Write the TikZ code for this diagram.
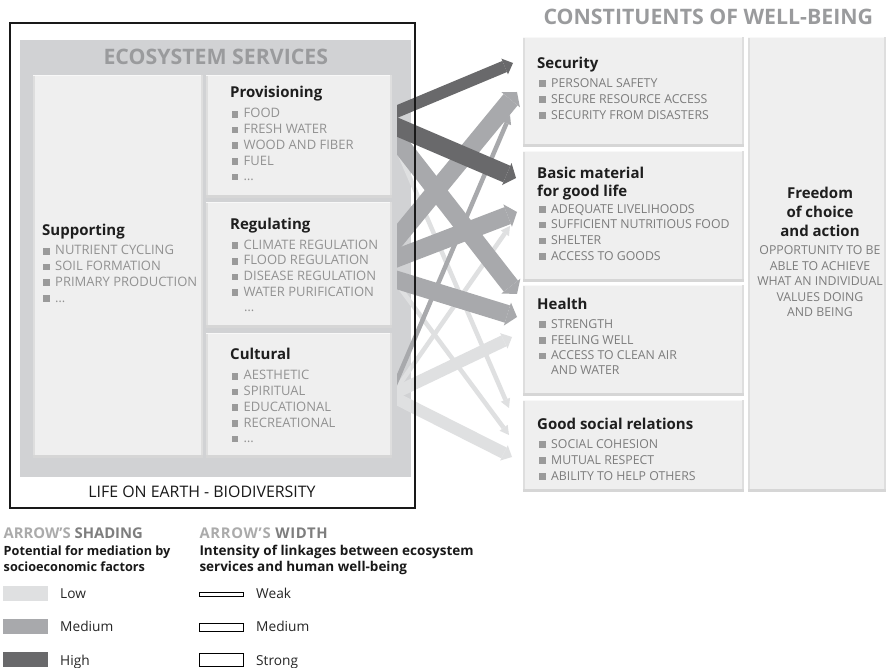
\documentclass[tikz,border=0pt]{standalone}
\usepackage{fontspec}
\setmainfont{Open Sans}
\usetikzlibrary{arrows.meta}

\definecolor{panelgray}{HTML}{D1D2D4}
\definecolor{boxfill}{HTML}{EFEFEF}
\definecolor{bevbot}{HTML}{D6D6D6}
\definecolor{bevside}{HTML}{DEDEDE}
\definecolor{bevtop}{HTML}{F8F8F8}
\definecolor{headgray}{HTML}{9A9B9D}
\definecolor{itemgray}{HTML}{929292}
\definecolor{cgray}{HTML}{7C7C7C}
\definecolor{bulletgray}{HTML}{9A9A9A}
\definecolor{titleblack}{HTML}{1E1E1E}
\definecolor{lowc}{HTML}{DFE0E1}
\definecolor{medc}{HTML}{A8A9AC}
\definecolor{highc}{HTML}{69696B}
\definecolor{lablight}{HTML}{ABABAB}
\definecolor{labdark}{HTML}{7E7E7E}

% grey square bullet in front of list items
\newcommand\sqb{\textcolor{bulletgray}{\rule[0.4pt]{6.5pt}{6.5pt}}\hspace{5.5pt}}

% raised-panel edges around a box node
\newcommand\bevelbox[1]{%
  \fill[bevside] (#1.north west) rectangle ([xshift=1.5pt]#1.south west);
  \fill[bevtop] (#1.north west) rectangle ([yshift=-1.5pt]#1.north east);
  \fill[bevside] ([xshift=-2.5pt]#1.north east) rectangle (#1.south east);
  \fill[bevbot] (#1.south west) rectangle ([yshift=3pt]#1.south east);
}

\begin{document}
\begin{tikzpicture}[x=1pt,y=-1pt,
  box/.style={fill=boxfill, inner sep=0pt, outer sep=0pt, anchor=north west},
  ttl/.style={font=\bfseries\fontsize{15}{18}\selectfont, text=titleblack, inner sep=0pt, anchor=base west},
  svcitem/.style={font=\fontsize{13}{15}\selectfont, text=itemgray, inner sep=0pt, anchor=base west},
  cnitem/.style={font=\fontsize{12.3}{14}\selectfont, text=cgray, inner sep=0pt, anchor=base west},
  head/.style={font=\bfseries\fontsize{21.3}{24}\selectfont, text=headgray, inner sep=0pt, anchor=base},
  legtxt/.style={font=\fontsize{13.7}{16}\selectfont, text=black!85, inner sep=0pt, anchor=base west},
  legbold/.style={font=\bfseries\fontsize{12.7}{16}\selectfont, text=black!90, inner sep=0pt, anchor=base west},
  legbold2/.style={legbold, font=\bfseries\fontsize{13.5}{16}\selectfont},
  leghead/.style={legbold, font=\bfseries\fontsize{14.8}{16}\selectfont},
  link/.style={shorten <=-12pt},
  weakA/.style={line width=4.5pt, -{Triangle[length=9pt,width=10pt,line width=0pt]}},
  medA/.style={line width=12pt, -{Triangle[length=9pt,width=17pt,line width=0pt]}},
  strongA/.style={line width=18pt, -{Triangle[length=10pt,width=24pt,line width=0pt]}},
  lowS/.style={draw=lowc, fill=lowc},
  medS/.style={draw=medc, fill=medc},
  highS/.style={draw=highc, fill=highc},
]
\useasboundingbox (0,0) rectangle (887,668);
\fill[white] (0,0) rectangle (887,668);

% ---------------- ecosystem services ----------------
\fill[panelgray] (20,40) rectangle (411,477);
\node[head] (eshead) at (215.8,65) {ECOSYSTEM SERVICES};

\node[box, minimum width=170pt, minimum height=383pt] (sup) at (33,75) {};
\node[box, minimum width=186pt, minimum height=123pt] (prov) at (206,75) {};
\node[box, minimum width=186pt, minimum height=126pt] (reg) at (206,202) {};
\node[box, minimum width=186pt, minimum height=125pt] (cult) at (206,333) {};
\bevelbox{sup}\bevelbox{prov}\bevelbox{reg}\bevelbox{cult}

\node[ttl] (supT) at (42,235.7) {Supporting};
\foreach \t [count=\i] in {NUTRIENT CYCLING,SOIL FORMATION,PRIMARY PRODUCTION,…}
  \node[svcitem] (sup-\i) at (43,{255+15.7*(\i-1)}) {\sqb\t};

\node[ttl] (provT) at (230,98) {Provisioning};
\foreach \t [count=\i] in {FOOD,FRESH WATER,WOOD AND FIBER,FUEL,…}
  \node[svcitem] (prov-\i) at (231.5,{118+15.7*(\i-1)}) {\sqb\t};

\node[ttl] (regT) at (230,229.3) {Regulating};
\foreach \t [count=\i] in {CLIMATE REGULATION,FLOOD REGULATION,DISEASE REGULATION,WATER PURIFICATION}
  \node[svcitem] (reg-\i) at (231.5,{249.3+15.7*(\i-1)}) {\sqb\t};
\node[svcitem] (reg-5) at (244,312) {…};

\node[ttl] (cultT) at (230,359.3) {Cultural};
\foreach \t [count=\i] in {AESTHETIC,SPIRITUAL,EDUCATIONAL,RECREATIONAL,…}
  \node[svcitem] (cult-\i) at (231.5,{380+15.7*(\i-1)}) {\sqb\t};

\node[font=\fontsize{15.9}{18}\selectfont, text=black!90, inner sep=0pt, anchor=base] (life) at (202,497.7) {LIFE ON EARTH - BIODIVERSITY};

% ---------------- constituents of well-being ----------------
\node[head] (cwhead) at (708.3,24.3) {CONSTITUENTS OF WELL-BEING};

\node[box, minimum width=221pt, minimum height=110pt] (sec) at (523,37) {};
\node[box, minimum width=221pt, minimum height=131pt] (basic) at (523,151) {};
\node[box, minimum width=221pt, minimum height=111pt] (health) at (523,285) {};
\node[box, minimum width=221pt, minimum height=92pt] (social) at (523,400) {};
\node[box, minimum width=138pt, minimum height=455pt] (freedom) at (748,37) {};
\bevelbox{sec}\bevelbox{basic}\bevelbox{health}\bevelbox{social}\bevelbox{freedom}

\node[ttl] (secT) at (537,68.3) {Security};
\foreach \t [count=\i] in {PERSONAL SAFETY,SECURE RESOURCE ACCESS,SECURITY FROM DISASTERS}
  \node[cnitem] (sec-\i) at (539,{87.3+16*(\i-1)}) {\sqb\t};

\node[ttl] (basicT) at (537,178.3) {Basic material};
\node[ttl] (basicT2) at (537,196.7) {for good life};
\foreach \t [count=\i] in {ADEQUATE LIVELIHOODS,SUFFICIENT NUTRITIOUS FOOD,SHELTER,ACCESS TO GOODS}
  \node[cnitem] (basic-\i) at (539,{213.3+15.6*(\i-1)}) {\sqb\t};

\node[ttl] (healthT) at (537,309.3) {Health};
\foreach \t [count=\i] in {STRENGTH,FEELING WELL,ACCESS TO CLEAN AIR}
  \node[cnitem] (health-\i) at (539,{328.3+15.8*(\i-1)}) {\sqb\t};
\node[cnitem] (health-4) at (551,375) {AND WATER};

\node[ttl] (socialT) at (537,429.3) {Good social relations};
\foreach \t [count=\i] in {SOCIAL COHESION,MUTUAL RESPECT,ABILITY TO HELP OTHERS}
  \node[cnitem] (social-\i) at (539,{448.3+15.9*(\i-1)}) {\sqb\t};

\foreach \t [count=\i] in {Freedom,of choice,and action}
  \node[ttl, anchor=base] (free-\i) at (820,{198.3+19.2*(\i-1)}) {\t};
\foreach \t [count=\i] in {OPPORTUNITY TO BE,ABLE TO ACHIEVE,WHAT AN INDIVIDUAL,VALUES DOING,AND BEING}
  \node[cnitem, anchor=base] (freetxt-\i) at (820,{255+15.4*(\i-1)}) {\t};

% ---------------- linkage arrows ----------------
% start points on the services side
\coordinate (p1) at (397,111.5);  \coordinate (p2) at (397,127);
\coordinate (p3) at (397,140);    \coordinate (p4) at (397,148);
\coordinate (r1) at (397,238);    \coordinate (r2) at (397,258);
\coordinate (r3) at (397,280);    \coordinate (r4) at (397,284);
\coordinate (c1) at (397,380);    \coordinate (c2) at (397,388);
\coordinate (c3) at (397,392);    \coordinate (c4) at (397,399);
% arrow tips on the well-being side
\coordinate (secA) at (513,63);   \coordinate (secB) at (517,92);   \coordinate (secC) at (510,115);
\coordinate (basA) at (516,178);  \coordinate (basB) at (517,212);  \coordinate (basC) at (510,226);
\coordinate (heaA) at (517,294);  \coordinate (heaB) at (517,317);  \coordinate (heaC) at (512,337);
\coordinate (socA) at (509,408);  \coordinate (socB) at (509,435);  \coordinate (socC) at (512,457);

\begin{scope}
  \clip (397,0) rectangle (887,668);
  % low potential for mediation
  \draw[link, lowS, weakA] (p4) -- (socA);
  \draw[link, lowS, weakA] (r4) -- (socB);
  \draw[link, lowS, weakA] (c2) -- (basC);
  \draw[link, lowS, medA] (c3) -- (heaC);
  \draw[link, lowS, medA] (c4) -- (socC);
  % medium potential
  \draw[link, medS, weakA] (c1) -- (secC);
  \draw[link, medS, strongA] (p3) -- (heaA);
  \draw[link, medS, strongA] (r1) -- (secB);
  \draw[link, medS, strongA] (r2) -- (basB);
  \draw[link, medS, strongA] (r3) -- (heaB);
  % high potential
  \draw[link, highS, medA] (p1) -- (secA);
  \draw[link, highS, strongA] (p2) -- (basA);
\end{scope}

% frame around the services panel
\draw[line width=2pt, black!90] (10,23) rectangle (414.5,508);

% ---------------- legend ----------------
\node[leghead] (shadeT) at (3.5,538) {\textcolor{lablight}{ARROW’S} \textcolor{labdark}{SHADING}};
\node[legbold] (shade1) at (3.5,555) {Potential for mediation by};
\node[legbold] (shade2) at (3.5,571.7) {socioeconomic factors};
\fill[lowc] (3,586) rectangle (48,601);
\fill[medc] (3,619) rectangle (48,634);
\fill[highc] (3,652) rectangle (48,667);
\node[legtxt] (lowL) at (60,598.5) {Low};
\node[legtxt] (medL) at (60,631.7) {Medium};
\node[legtxt] (highL) at (60,665) {High};

\node[leghead] (widthT) at (199.3,538) {\addfontfeature{LetterSpace=4.7}\textcolor{lablight}{ARROW’S} \textcolor{labdark}{WIDTH}};
\node[legbold2] (width1) at (199.3,555) {Intensity of linkages between ecosystem};
\node[legbold2] (width2) at (199.3,571.7) {services and human well-being};
\draw[line width=0.9pt, fill=white] (199.5,592.5) rectangle (243,596.5);
\draw[line width=0.9pt, fill=white] (199.5,623) rectangle (243,631);
\draw[line width=0.9pt, fill=white] (199.5,653) rectangle (243,666.5);
\node[legtxt] (weakL) at (256,598.5) {Weak};
\node[legtxt] (mediumL) at (256,631.7) {Medium};
\node[legtxt] (strongL) at (256,665) {Strong};
\end{tikzpicture}
\end{document}
